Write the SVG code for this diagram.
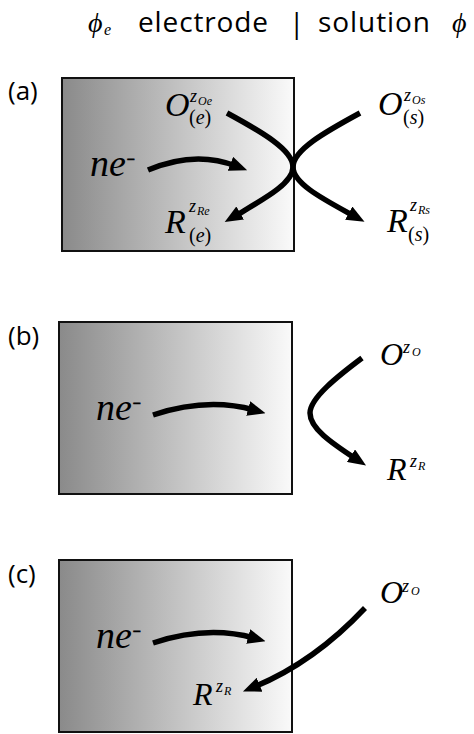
<svg xmlns="http://www.w3.org/2000/svg" width="474" height="734" viewBox="0 0 474 734">
<defs>
<linearGradient id="metal" x1="0" y1="0" x2="1" y2="0">
<stop offset="0" stop-color="#8a8a8a"/>
<stop offset="1" stop-color="#fafafa"/>
</linearGradient>
<marker id="ah" markerUnits="userSpaceOnUse" markerWidth="18" markerHeight="15" viewBox="0 0 18 15" refX="6" refY="7.5" orient="auto">
<path d="M0,0 L18,7.5 L0,15 z" fill="#000"/>
</marker>
</defs>
<style>
.box{fill:url(#metal);stroke:#111;stroke-width:2}
.sans{font-family:"Open Sans","Liberation Sans",sans-serif;fill:#000}
.m{font-family:"Liberation Serif","Times New Roman",serif;font-style:italic;fill:#000}
.up{font-style:normal}
.minus{font-family:"Liberation Serif",serif;font-style:normal;font-weight:bold;stroke:#000;stroke-width:0.8}
.arr{fill:none;stroke:#000;stroke-width:5.5;marker-end:url(#ah)}
</style>
<rect width="474" height="734" fill="#fff"/>

<g id="title">
<text class="m" x="88" y="32" font-size="28">ϕ<tspan x="104" y="35" font-size="16">e</tspan></text>
<text class="sans" x="138" y="32" font-size="28" textLength="130" lengthAdjust="spacing">electrode</text>
<text class="sans" x="289" y="33" font-size="28">|</text>
<text class="sans" x="318" y="32" font-size="28" textLength="112" lengthAdjust="spacing">solution</text>
<text class="m" x="452" y="32" font-size="28">ϕ</text>
</g>

<g id="panel-a">
<text class="sans" x="8" y="100" font-size="26">(a)</text>
<rect class="box" x="62" y="78" width="232" height="173"/>
</g>
<g id="panel-b">
<text class="sans" x="8" y="345" font-size="26">(b)</text>
<rect class="box" x="59" y="322" width="233" height="172"/>
</g>
<g id="panel-c">
<text class="sans" x="8" y="583" font-size="26">(c)</text>
<rect class="box" x="59" y="560" width="233" height="172"/>
</g>

<g id="a-ne">
<text class="m" x="90" y="176" font-size="38">ne<tspan class="minus" x="127" y="164" font-size="14">−</tspan></text>
</g>
<g id="a-Oe">
<text class="m" x="165" y="116" font-size="34">O<tspan x="190" y="102" font-size="18">z</tspan><tspan x="198" y="105" font-size="12">Oe</tspan><tspan x="189" y="124" font-size="20"><tspan class="up">(</tspan>e<tspan class="up">)</tspan></tspan></text>
</g>
<g id="a-Re">
<text class="m" x="165" y="233" font-size="34">R<tspan x="189" y="212" font-size="18">z</tspan><tspan x="197" y="215" font-size="12">Re</tspan><tspan x="189" y="242" font-size="20"><tspan class="up">(</tspan>e<tspan class="up">)</tspan></tspan></text>
</g>
<g id="a-Os">
<text class="m" x="378" y="115" font-size="34">O<tspan x="404" y="101" font-size="18">z</tspan><tspan x="412" y="104" font-size="12">Os</tspan><tspan x="403" y="124" font-size="20"><tspan class="up">(</tspan>s<tspan class="up">)</tspan></tspan></text>
</g>
<g id="a-Rs">
<text class="m" x="387" y="232" font-size="34">R<tspan x="410" y="211" font-size="18">z</tspan><tspan x="418" y="214" font-size="12">Rs</tspan><tspan x="408" y="241" font-size="20"><tspan class="up">(</tspan>s<tspan class="up">)</tspan></tspan></text>
</g>

<g id="b-ne">
<text class="m" x="96" y="420" font-size="38">ne<tspan class="minus" x="133" y="408" font-size="14">−</tspan></text>
</g>
<g id="b-O">
<text class="m" x="380" y="365" font-size="32">O<tspan x="403" y="353" font-size="18">z</tspan><tspan x="412" y="356" font-size="12">O</tspan></text>
</g>
<g id="b-R">
<text class="m" x="387" y="480" font-size="32">R<tspan x="410" y="467" font-size="18">z</tspan><tspan x="418" y="470" font-size="12">R</tspan></text>
</g>

<g id="c-ne">
<text class="m" x="96" y="648" font-size="38">ne<tspan class="minus" x="133" y="636" font-size="14">−</tspan></text>
</g>
<g id="c-O">
<text class="m" x="380" y="603" font-size="32">O<tspan x="402" y="592" font-size="18">z</tspan><tspan x="411" y="595" font-size="12">O</tspan></text>
</g>
<g id="c-R">
<text class="m" x="193" y="705" font-size="32">R<tspan x="216" y="692" font-size="18">z</tspan><tspan x="224" y="695" font-size="12">R</tspan></text>
</g>

<g id="connectors">
<path class="arr" d="M148,170 Q195,150 236,166"/>
<path class="arr" d="M227,113 C262,132 293,150 293,167 C293,184 262,200 235,216"/>
<path class="arr" d="M360,113 C325,132 293,150 293,167 C293,184 325,200 354,216"/>
<path class="arr" d="M153,415 Q207,397 254,410"/>
<path class="arr" d="M362,358 C338,376 310,398 310,413 C310,428 330,442 356,459"/>
<path class="arr" d="M153,643 Q207,625 254,638"/>
<path class="arr" d="M365,608 C335,640 300,668 254,687"/>
</g>
</svg>
